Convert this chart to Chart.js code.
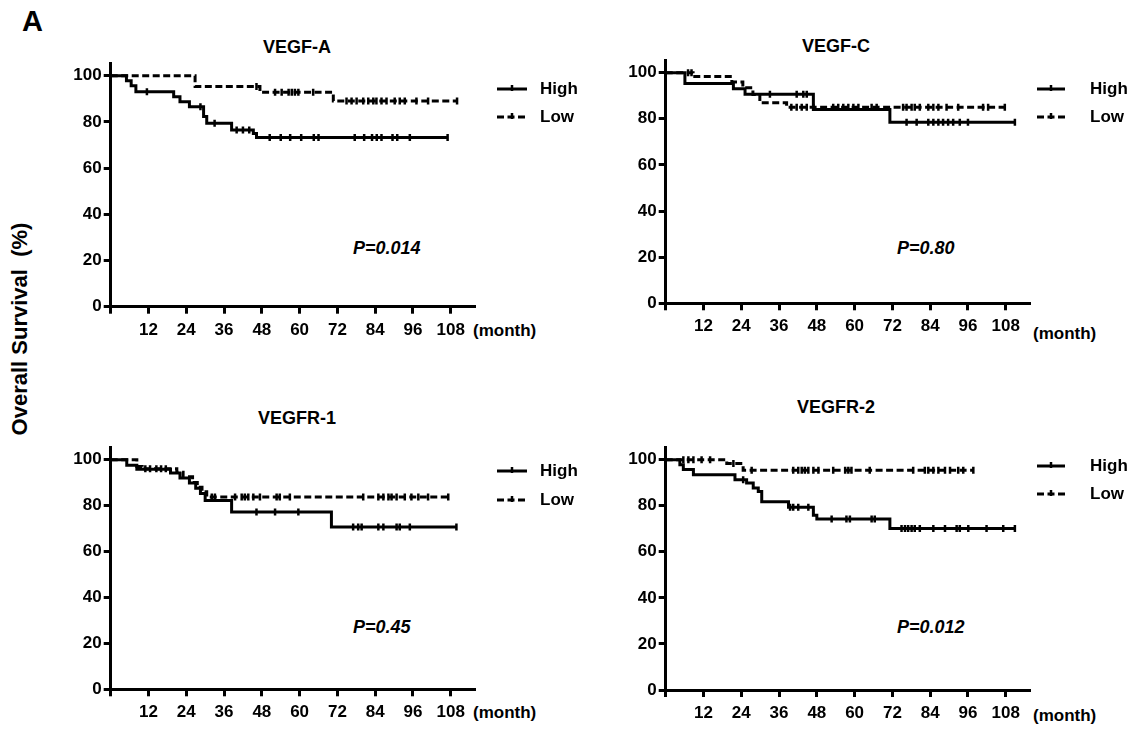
<!DOCTYPE html>
<html>
<head>
<meta charset="utf-8">
<script src="https://cdn.jsdelivr.net/npm/chart.js@4.4.1/dist/chart.umd.min.js"></script>
<style>
  html, body { margin:0; padding:0; background:#fff; }
  body { width:1148px; height:737px; position:relative; overflow:hidden;
         font-family:'Liberation Sans', Arial, Helvetica, sans-serif; color:#000; }
  canvas { position:absolute; }
  .t { position:absolute; font-weight:bold; white-space:nowrap; line-height:1; transform:translateY(-50%); }
  .c { transform:translate(-50%,-50%); }
  .p { font-style:italic; font-size:18px; }
  .m { font-size:17px; }
  .ttl { font-size:18px; }
</style>
</head>
<body>
<div class="t" style="left:22px;top:21px;font-size:29px;">A</div>
<div class="t" style="left:20px;top:329px;font-size:22px;transform:translate(-50%,-50%) rotate(-90deg);">Overall Survival&nbsp;&nbsp;(%)</div>

<div class="t c ttl" style="left:297px;top:47px;">VEGF-A</div>
<div class="t c ttl" style="left:836px;top:46px;">VEGF-C</div>
<div class="t c ttl" style="left:297px;top:418px;">VEGFR-1</div>
<div class="t c ttl" style="left:836px;top:407px;">VEGFR-2</div>

<div class="t p" style="left:353px;top:248px;">P=0.014</div>
<div class="t p" style="left:897px;top:248px;">P=0.80</div>
<div class="t p" style="left:353px;top:627px;">P=0.45</div>
<div class="t p" style="left:897px;top:627px;">P=0.012</div>

<div class="t m" style="left:473px;top:330px;">(month)</div>
<div class="t m" style="left:1033px;top:333px;">(month)</div>
<div class="t m" style="left:473px;top:712px;">(month)</div>
<div class="t m" style="left:1033px;top:715px;">(month)</div>

<canvas id="cA" width="590" height="370" style="left:0px;top:0px;"></canvas>
<canvas id="cB" width="558" height="370" style="left:590px;top:0px;"></canvas>
<canvas id="cC" width="590" height="367" style="left:0px;top:370px;"></canvas>
<canvas id="cD" width="558" height="367" style="left:590px;top:370px;"></canvas>

<script>
// ---------- Tick labels ----------
const xTickValues = [0, 12, 24, 36, 48, 60, 72, 84, 96, 108];
const xTickLabels = ['', '12', '24', '36', '48', '60', '72', '84', '96', '108'];
const yTickValues = [0, 20, 40, 60, 80, 100];
const yTickLabels = ['0', '20', '40', '60', '80', '100'];
const legendLabels = ['High', 'Low'];

// ---------- VEGF-A ----------
const vegfA_high_t = [0, 5, 6.5, 8, 20, 22, 25, 29.5, 30.5, 38.4, 45.3, 46.3, 107];
const vegfA_high_s = [100, 97.8, 95.6, 93.1, 90.9, 88.7, 86.6, 82.3, 79.4, 76.5, 75, 73.3, 73.3];
const vegfA_high_c = [11.5, 28.5, 33, 40, 42, 44, 50.5, 54, 57, 60.5, 64.5, 66, 77.5, 80.5, 83, 84.5, 86, 89.5, 91, 95, 107];
const vegfA_low_t = [0, 26.8, 47.4, 70.7, 110];
const vegfA_low_s = [100, 95.3, 92.8, 89, 89];
const vegfA_low_c = [46.3, 52.2, 54.3, 56.5, 57.5, 58.5, 59.6, 64.3, 74.9, 76.5, 78.1, 80.2, 81.8, 83.4, 84.4, 86, 87.6, 90.2, 91.8, 93.4, 97.1, 100.8, 110];

// ---------- VEGF-C ----------
const vegfC_high_t = [0, 6.1, 21.5, 25.2, 46.9, 71.2, 110.9];
const vegfC_high_s = [100, 95.3, 93, 90.6, 84, 78.5, 78.5];
const vegfC_high_c = [33.1, 41.6, 43.7, 44.8, 76.5, 79.7, 83.4, 85, 86.6, 88.1, 89.7, 91.3, 93.4, 96, 110.9];
const vegfC_low_t = [0, 8.7, 21, 24.5, 27.7, 29.9, 38.4, 107.7];
const vegfC_low_s = [100, 98.3, 96, 93.5, 90.5, 87, 85, 85];
const vegfC_low_c = [7.1, 8.2, 39.9, 41.6, 43.2, 44.8, 46.9, 53.2, 54.8, 56.4, 58, 59.6, 61.2, 65.4, 67, 75.4, 76.5, 78.1, 79.1, 80.7, 83.4, 85, 86.6, 89.2, 92.9, 100.8, 102.4, 107.7];

// ---------- VEGFR-1 ----------
const vegfr1_high_t = [0, 5.1, 8.3, 19, 22, 25, 27, 28.5, 30, 38.4, 70.1, 109.8];
const vegfr1_high_s = [100, 97.5, 95.8, 94.2, 92, 89.8, 87.5, 85.3, 82.2, 77.2, 70.7, 70.7];
const vegfr1_high_c = [46.3, 52.2, 59.6, 77, 78.6, 79.7, 85, 86.6, 90.8, 91.8, 95, 109.8];
const vegfr1_low_t = [0, 8.3, 10, 21, 23, 26, 27.5, 29, 30.5, 107.2];
const vegfr1_low_s = [100, 97, 96, 94.5, 92.5, 90, 88, 86, 83.7, 83.7];
const vegfr1_low_c = [11, 12.5, 14.5, 16, 17.5, 32.1, 33.1, 39.5, 41.6, 42.6, 43.7, 45.3, 47.4, 52.7, 53.7, 56.9, 80.2, 85, 86.6, 88.2, 89.2, 90.8, 93.4, 95.5, 97.7, 100.8, 107.2];

// ---------- VEGFR-2 ----------
const vegfr2_high_t = [0, 4.5, 5.6, 8.8, 22, 25.7, 27.8, 29.4, 30.5, 39, 46.9, 48, 71.2, 110.9];
const vegfr2_high_s = [100, 97.8, 95.7, 93.5, 91.3, 89.9, 87.7, 86.2, 81.7, 79.3, 75.9, 74.2, 70.1, 70.1];
const vegfr2_high_c = [24.6, 39.5, 40.5, 42.1, 45.3, 52.7, 57.4, 58.5, 65.4, 66.4, 74.9, 76, 77, 78.1, 79.1, 80.7, 85, 88.7, 92.4, 93.4, 96.1, 101.9, 107.2, 110.9];
const vegfr2_low_t = [0, 19.4, 24.6, 97.7];
const vegfr2_low_s = [100, 98.3, 95.4, 95.4];
const vegfr2_low_c = [5.6, 7.2, 8.8, 11.4, 14.1, 21.5, 27.3, 40.5, 42.1, 43.2, 44.2, 45.3, 46.9, 48.5, 53.2, 57, 58, 59, 64.8, 78.6, 82.3, 83.4, 85, 86.6, 88.7, 90.3, 92.9, 94.5, 97.7];

// ---------- helpers ----------
const FONT = "'Liberation Sans', Arial, Helvetica, sans-serif";
Chart.defaults.font.family = FONT;
Chart.defaults.color = '#000';

function levelAt(ts, ss, t) {
  let v = ss[0];
  for (let i = 0; i < ts.length; i++) { if (ts[i] <= t) v = ss[i]; }
  return v;
}

const DASH = [7, 3.5];

function curveSets(ts, ss, cs, dashed) {
  return [
    {
      data: ts.map((t, i) => ({ x: t, y: ss[i] })),
      stepped: true,
      borderColor: '#000',
      borderWidth: 3,
      borderDash: dashed ? DASH : [],
      pointRadius: 0,
      fill: false
    },
    {
      data: cs.map(t => ({ x: t, y: levelAt(ts, ss, t) })),
      showLine: false,
      pointStyle: 'line',
      rotation: 90,
      pointRadius: 3.5,
      pointBorderWidth: 2.5,
      pointBorderColor: '#000',
      pointBackgroundColor: '#000',
      borderColor: '#000'
    }
  ];
}

const kmLegend = {
  id: 'kmLegend',
  afterDraw(chart, args, opts) {
    const ctx = chart.ctx;
    (opts.items || []).forEach(it => {
      ctx.save();
      ctx.strokeStyle = '#000';
      ctx.lineWidth = 3;
      ctx.setLineDash(it.dashed ? DASH : []);
      ctx.beginPath();
      ctx.moveTo(it.x1, it.y);
      ctx.lineTo(it.x2, it.y);
      ctx.stroke();
      ctx.setLineDash([]);
      ctx.lineWidth = 2.5;
      const mx = (it.x1 + it.x2) / 2;
      ctx.beginPath();
      ctx.moveTo(mx, it.y - 4);
      ctx.lineTo(mx, it.y + 2);
      ctx.stroke();
      ctx.fillStyle = '#000';
      ctx.font = 'bold 17px ' + FONT;
      ctx.textBaseline = 'middle';
      ctx.textAlign = 'left';
      ctx.fillText(it.label, it.tx, it.y);
      ctx.restore();
    });
  }
};

function makeChart(id, g, high, low, legendItems) {
  const datasets = [
    ...curveSets(high[0], high[1], high[2], false),
    ...curveSets(low[0], low[1], low[2], true)
  ];
  return new Chart(document.getElementById(id), {
    type: 'line',
    data: { datasets },
    plugins: [kmLegend],
    options: {
      responsive: false,
      animation: false,
      devicePixelRatio: 1,
      layout: { padding: { left: 10, right: g.padRight, top: g.padTop, bottom: 0 } },
      plugins: {
        legend: { display: false },
        tooltip: { enabled: false },
        kmLegend: { items: legendItems }
      },
      scales: {
        x: {
          type: 'linear',
          min: 0, max: 115.7,
          afterFit: s => { s.height = g.xHeight; },
          afterBuildTicks: s => { s.ticks = xTickValues.map(v => ({ value: v })); },
          ticks: {
            autoSkip: false, maxRotation: 0,
            padding: 6,
            font: { size: 17, weight: 'bold' },
            color: '#000',
            callback: (v) => xTickLabels[xTickValues.indexOf(v)] ?? ''
          },
          grid: { drawOnChartArea: false, drawTicks: true, tickLength: 7, tickWidth: 3, tickColor: '#000' },
          border: { display: true, width: 3, color: '#000' }
        },
        y: {
          min: 0, max: 105.5,
          afterFit: s => { s.width = g.yWidth; },
          afterBuildTicks: s => { s.ticks = yTickValues.map(v => ({ value: v })); },
          ticks: {
            autoSkip: false,
            padding: 2,
            font: { size: 17, weight: 'bold' },
            color: '#000',
            callback: (v) => yTickLabels[yTickValues.indexOf(v)] ?? ''
          },
          grid: { drawOnChartArea: false, drawTicks: true, tickLength: 7, tickWidth: 3, tickColor: '#000' },
          border: { display: true, width: 3, color: '#000' }
        }
      }
    }
  });
}

function legendFor(x1, x2, tx, yHigh, yLow) {
  return [
    { label: legendLabels[0], x1, x2, tx, y: yHigh, dashed: false },
    { label: legendLabels[1], x1, x2, tx, y: yLow, dashed: true }
  ];
}

makeChart('cA', { padRight: 115, padTop: 63, yWidth: 100.7, xHeight: 63.3 },
  [vegfA_high_t, vegfA_high_s, vegfA_high_c], [vegfA_low_t, vegfA_low_s, vegfA_low_c],
  legendFor(497, 527, 540, 89, 117));

makeChart('cB', { padRight: 118, padTop: 60, yWidth: 65.7, xHeight: 66.7 },
  [vegfC_high_t, vegfC_high_s, vegfC_high_c], [vegfC_low_t, vegfC_low_s, vegfC_low_c],
  legendFor(447, 475, 500, 89, 117));

makeChart('cC', { padRight: 115, padTop: 77, yWidth: 100.7, xHeight: 47.7 },
  [vegfr1_high_t, vegfr1_high_s, vegfr1_high_c], [vegfr1_low_t, vegfr1_low_s, vegfr1_low_c],
  legendFor(497, 527, 540, 101, 130));

makeChart('cD', { padRight: 118, padTop: 77, yWidth: 65.7, xHeight: 47 },
  [vegfr2_high_t, vegfr2_high_s, vegfr2_high_c], [vegfr2_low_t, vegfr2_low_s, vegfr2_low_c],
  legendFor(447, 475, 500, 96, 124));
</script>
</body>
</html>
